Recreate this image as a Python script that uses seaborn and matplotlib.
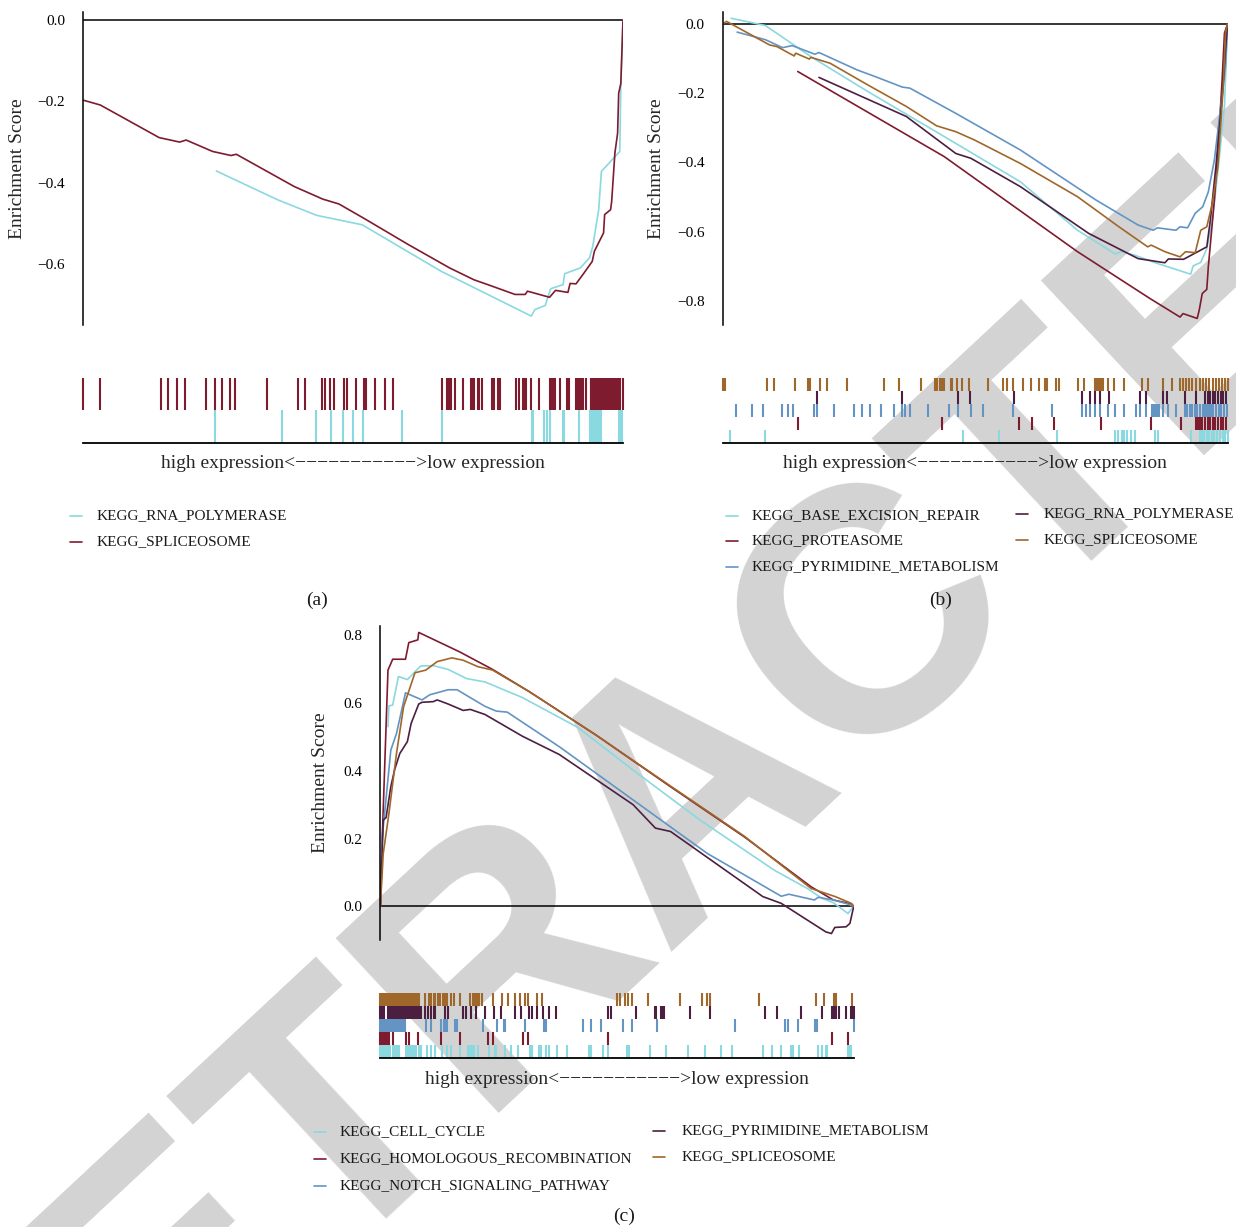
import numpy as np
import pandas as pd
import matplotlib
matplotlib.use("Agg")
import matplotlib.pyplot as plt
from matplotlib.lines import Line2D
import seaborn as sns

W, H = 1236, 1227

CYAN = "#8ad8e0"
RED = "#7f1b2e"
BLUE = "#6394c3"
PURPLE = "#4c1f41"
BROWN = "#a0672a"

# ---------------- panel (a) ----------------
a_names = ["KEGG_RNA_POLYMERASE", "KEGG_SPLICEOSOME"]
a_colors = [CYAN, RED]

a_rnapol_x = [0.247, 0.361, 0.433, 0.517, 0.663, 0.830, 0.837, 0.856, 0.866, 0.889, 0.892,
              0.921, 0.938, 0.944, 0.955, 0.960, 0.994, 0.996, 1.0]
a_rnapol_y = [-0.371, -0.442, -0.480, -0.503, -0.617, -0.727, -0.711, -0.701, -0.660, -0.650,
              -0.623, -0.609, -0.584, -0.556, -0.466, -0.372, -0.323, -0.156, 0.0]
a_splice_x = [0.0, 0.032, 0.141, 0.179, 0.191, 0.240, 0.274, 0.284, 0.391, 0.444, 0.474, 0.520,
              0.603, 0.679, 0.724, 0.754, 0.800, 0.819, 0.823, 0.845, 0.864, 0.875, 0.898, 0.902,
              0.913, 0.928, 0.943, 0.947, 0.964, 0.966, 0.977, 0.979, 0.985, 0.990, 0.992, 0.996, 1.0]
a_splice_y = [-0.197, -0.209, -0.289, -0.300, -0.295, -0.323, -0.333, -0.330, -0.409, -0.440,
              -0.452, -0.487, -0.552, -0.609, -0.638, -0.652, -0.674, -0.674, -0.666, -0.674,
              -0.681, -0.664, -0.669, -0.647, -0.648, -0.621, -0.593, -0.568, -0.523, -0.478,
              -0.466, -0.446, -0.327, -0.278, -0.180, -0.156, 0.0]

a_rnapol_hits = [0.245, 0.368, 0.432, 0.460, 0.482, 0.500, 0.518, 0.591, 0.664, 0.831, 0.834,
                 0.854, 0.860, 0.864, 0.888, 0.891, 0.919, 0.938, 0.942, 0.946, 0.950, 0.953,
                 0.956, 0.959, 0.993, 0.996, 0.999]
a_splice_hits = [0.0, 0.031, 0.144, 0.158, 0.175, 0.188, 0.227, 0.245, 0.257, 0.273, 0.281,
                 0.340, 0.398, 0.412, 0.443, 0.448, 0.457, 0.464, 0.484, 0.489, 0.506, 0.521,
                 0.525, 0.540, 0.560, 0.575, 0.664, 0.675, 0.678, 0.681, 0.689, 0.704, 0.718,
                 0.721, 0.724, 0.731, 0.734, 0.738, 0.757, 0.761, 0.768, 0.772, 0.801, 0.808,
                 0.814, 0.817, 0.820, 0.829, 0.845, 0.865, 0.868, 0.872, 0.875, 0.884, 0.897,
                 0.900, 0.913, 0.915, 0.918, 0.920, 0.923, 0.926, 0.931, 0.940, 0.941, 0.944,
                 0.946, 0.949, 0.951, 0.955, 0.958, 0.962, 0.964, 0.968, 0.973, 0.975, 0.978,
                 0.981, 0.985, 0.988, 0.991, 0.994, 1.0]

# ---------------- panel (b) ----------------
b_names = ["KEGG_BASE_EXCISION_REPAIR", "KEGG_PROTEASOME", "KEGG_PYRIMIDINE_METABOLISM",
           "KEGG_RNA_POLYMERASE", "KEGG_SPLICEOSOME"]
b_colors = [CYAN, RED, BLUE, PURPLE, BROWN]

b_ber_x = [0.017, 0.085, 0.175, 0.288, 0.439, 0.590, 0.703, 0.778, 0.789, 0.816, 0.861, 0.927,
           0.932, 0.947, 0.959, 0.970, 0.982, 0.994, 1.0]
b_ber_y = [0.017, -0.004, -0.094, -0.195, -0.325, -0.456, -0.596, -0.665, -0.658, -0.668,
           -0.692, -0.723, -0.699, -0.689, -0.649, -0.567, -0.412, -0.238, 0.0]
b_prot_x = [0.149, 0.439, 0.703, 0.846, 0.906, 0.912, 0.940, 0.944, 0.950, 0.959, 0.962, 0.974,
            0.981, 0.989, 0.994, 1.0]
b_prot_y = [-0.137, -0.383, -0.658, -0.793, -0.847, -0.837, -0.851, -0.827, -0.779, -0.767,
            -0.702, -0.509, -0.364, -0.171, -0.026, 0.0]
b_pyr_x = [0.029, 0.085, 0.119, 0.138, 0.183, 0.191, 0.266, 0.303, 0.356, 0.371, 0.462, 0.590,
           0.740, 0.823, 0.853, 0.861, 0.898, 0.906, 0.921, 0.936, 0.951, 0.962, 0.974, 0.985,
           0.996, 1.0]
b_pyr_y = [-0.023, -0.045, -0.068, -0.062, -0.087, -0.082, -0.132, -0.152, -0.182, -0.185,
           -0.258, -0.364, -0.509, -0.581, -0.596, -0.589, -0.596, -0.586, -0.589, -0.547,
           -0.528, -0.485, -0.393, -0.258, -0.123, 0.0]
b_rnapol_x = [0.191, 0.364, 0.462, 0.492, 0.590, 0.725, 0.823, 0.876, 0.883, 0.913, 0.959,
              0.966, 0.977, 0.989, 0.996, 1.0]
b_rnapol_y = [-0.154, -0.267, -0.374, -0.388, -0.470, -0.605, -0.678, -0.690, -0.679, -0.680,
              -0.644, -0.567, -0.412, -0.219, -0.074, 0.0]
b_splice_x = [0.0, 0.008, 0.093, 0.108, 0.142, 0.145, 0.172, 0.175, 0.213, 0.288, 0.364, 0.424,
              0.462, 0.499, 0.590, 0.703, 0.785, 0.842, 0.849, 0.876, 0.906, 0.917, 0.936, 0.947,
              0.959, 0.970, 0.981, 0.992, 0.996, 1.0]
b_splice_y = [0.0, 0.008, -0.060, -0.065, -0.092, -0.084, -0.101, -0.096, -0.113, -0.176,
              -0.238, -0.294, -0.311, -0.335, -0.403, -0.499, -0.586, -0.644, -0.639, -0.658,
              -0.673, -0.658, -0.661, -0.596, -0.586, -0.518, -0.412, -0.171, -0.026, 0.0]

b_ber_hits = [0.015, 0.084, 0.477, 0.547, 0.663, 0.778, 0.783, 0.792, 0.796, 0.801, 0.808,
              0.816, 0.857, 0.862, 0.928, 0.946, 0.950, 0.954, 0.959, 0.964, 0.969, 0.974,
              0.980, 0.985, 0.991, 0.996, 1.0]
b_prot_hits = [0.149, 0.435, 0.588, 0.613, 0.657, 0.750, 0.849, 0.907, 0.938, 0.942, 0.946,
               0.950, 0.956, 0.961, 0.966, 0.971, 0.976, 0.982, 0.987, 0.992, 0.997]
b_pyr_hits = [0.026, 0.058, 0.081, 0.118, 0.129, 0.139, 0.181, 0.188, 0.221, 0.261, 0.276,
              0.293, 0.313, 0.340, 0.355, 0.361, 0.372, 0.407, 0.449, 0.466, 0.493, 0.515,
              0.576, 0.653, 0.712, 0.720, 0.728, 0.737, 0.748, 0.763, 0.778, 0.796, 0.819,
              0.826, 0.838, 0.851, 0.854, 0.857, 0.861, 0.864, 0.872, 0.882, 0.898, 0.915,
              0.919, 0.925, 0.930, 0.935, 0.939, 0.945, 0.951, 0.955, 0.959, 0.963, 0.968,
              0.972, 0.978, 0.983, 0.988, 0.993, 0.999]
b_rnapol_hits = [0.188, 0.356, 0.466, 0.491, 0.577, 0.712, 0.728, 0.737, 0.748, 0.766, 0.826,
                 0.838, 0.873, 0.881, 0.915, 0.937, 0.956, 0.961, 0.966, 0.971, 0.976, 0.982,
                 0.987, 0.992, 0.997]
b_splice_hits = [0.0, 0.005, 0.088, 0.102, 0.143, 0.170, 0.173, 0.193, 0.206, 0.246, 0.320,
                 0.349, 0.394, 0.420, 0.425, 0.430, 0.434, 0.438, 0.452, 0.455, 0.464, 0.474,
                 0.489, 0.525, 0.556, 0.564, 0.576, 0.595, 0.611, 0.626, 0.639, 0.642, 0.661,
                 0.667, 0.704, 0.715, 0.737, 0.741, 0.745, 0.749, 0.754, 0.763, 0.776, 0.796,
                 0.831, 0.842, 0.873, 0.890, 0.905, 0.911, 0.917, 0.923, 0.929, 0.937, 0.945,
                 0.951, 0.958, 0.964, 0.971, 0.978, 0.984, 0.990, 0.996, 1.0]

# ---------------- panel (c) ----------------
c_names = ["KEGG_CELL_CYCLE", "KEGG_HOMOLOGOUS_RECOMBINATION", "KEGG_NOTCH_SIGNALING_PATHWAY",
           "KEGG_PYRIMIDINE_METABOLISM", "KEGG_SPLICEOSOME"]
c_colors = [CYAN, RED, BLUE, PURPLE, BROWN]

c_cycle_x = [0.016, 0.018, 0.026, 0.038, 0.057, 0.085, 0.112, 0.143, 0.182, 0.221, 0.300, 0.417,
             0.534, 0.675, 0.832, 0.902, 0.933, 0.957, 0.988, 0.996, 1.0]
c_cycle_y = [0.530, 0.591, 0.594, 0.678, 0.669, 0.709, 0.710, 0.699, 0.672, 0.662, 0.616, 0.528,
             0.402, 0.255, 0.107, 0.053, 0.024, 0.011, -0.021, -0.006, 0.0]
c_hr_x = [0.0, 0.004, 0.016, 0.026, 0.053, 0.060, 0.079, 0.081, 0.167, 0.237, 0.315, 0.456,
          0.613, 0.769, 0.910, 0.957, 0.996, 1.0]
c_hr_y = [0.0, 0.205, 0.697, 0.729, 0.729, 0.778, 0.786, 0.808, 0.751, 0.699, 0.633, 0.505,
          0.353, 0.205, 0.058, 0.019, 0.007, 0.0]
c_notch_x = [0.0, 0.004, 0.022, 0.034, 0.053, 0.088, 0.104, 0.143, 0.162, 0.221, 0.245, 0.268,
             0.378, 0.534, 0.691, 0.847, 0.863, 0.917, 0.925, 0.957, 0.988, 1.0]
c_notch_y = [0.0, 0.205, 0.461, 0.510, 0.630, 0.609, 0.624, 0.639, 0.639, 0.590, 0.576, 0.573,
             0.471, 0.314, 0.156, 0.030, 0.036, 0.019, 0.027, 0.019, 0.007, 0.0]
c_pyr_x = [0.0, 0.006, 0.012, 0.022, 0.030, 0.041, 0.057, 0.065, 0.081, 0.088, 0.112, 0.120,
           0.143, 0.175, 0.190, 0.221, 0.300, 0.378, 0.534, 0.581, 0.613, 0.808, 0.847, 0.941,
           0.953, 0.960, 0.984, 0.992, 1.0]
c_pyr_y = [0.0, 0.255, 0.262, 0.353, 0.403, 0.451, 0.486, 0.540, 0.597, 0.602, 0.604, 0.609,
           0.597, 0.578, 0.581, 0.566, 0.502, 0.448, 0.300, 0.231, 0.221, 0.029, 0.009, -0.075,
           -0.080, -0.062, -0.060, -0.050, 0.0]
c_splice_x = [0.0, 0.006, 0.018, 0.034, 0.049, 0.073, 0.096, 0.120, 0.151, 0.175, 0.206, 0.237,
              0.315, 0.456, 0.613, 0.769, 0.910, 0.961, 0.995, 1.0]
c_splice_y = [0.0, 0.156, 0.274, 0.451, 0.589, 0.689, 0.697, 0.722, 0.733, 0.726, 0.707, 0.697,
              0.633, 0.505, 0.355, 0.207, 0.053, 0.029, 0.009, 0.0]

c_cycle_hits = [0.0, 0.004, 0.007, 0.011, 0.014, 0.018, 0.021, 0.026, 0.030, 0.033, 0.037,
                0.039, 0.054, 0.058, 0.062, 0.066, 0.069, 0.073, 0.076, 0.081, 0.085, 0.099,
                0.106, 0.116, 0.130, 0.140, 0.150, 0.169, 0.185, 0.189, 0.194, 0.197, 0.207,
                0.229, 0.242, 0.245, 0.264, 0.275, 0.291, 0.317, 0.321, 0.335, 0.340, 0.350,
                0.357, 0.373, 0.394, 0.440, 0.444, 0.471, 0.481, 0.522, 0.525, 0.569, 0.603,
                0.649, 0.686, 0.719, 0.742, 0.809, 0.828, 0.847, 0.867, 0.872, 0.884, 0.924,
                0.934, 0.941, 0.943, 0.988, 0.992, 0.995]
c_hr_hits = [0.0, 0.004, 0.007, 0.011, 0.014, 0.018, 0.026, 0.054, 0.060, 0.079, 0.129, 0.169,
             0.228, 0.238, 0.301, 0.312, 0.481, 0.955, 0.987]
c_notch_hits = [0.0, 0.004, 0.007, 0.011, 0.014, 0.018, 0.021, 0.025, 0.028, 0.032, 0.035,
                0.039, 0.042, 0.046, 0.049, 0.053, 0.097, 0.106, 0.127, 0.134, 0.137, 0.141,
                0.157, 0.162, 0.216, 0.247, 0.261, 0.264, 0.305, 0.345, 0.349, 0.428, 0.446,
                0.467, 0.512, 0.532, 0.584, 0.749, 0.854, 0.862, 0.883, 0.918, 0.923, 1.0]
c_pyr_hits = [0.0, 0.004, 0.007, 0.016, 0.021, 0.025, 0.028, 0.032, 0.035, 0.039, 0.042, 0.046,
              0.049, 0.055, 0.059, 0.062, 0.066, 0.070, 0.074, 0.078, 0.081, 0.085, 0.095,
              0.101, 0.106, 0.113, 0.116, 0.137, 0.143, 0.174, 0.180, 0.192, 0.202, 0.222,
              0.240, 0.254, 0.284, 0.298, 0.315, 0.321, 0.331, 0.343, 0.356, 0.370, 0.481,
              0.488, 0.541, 0.580, 0.583, 0.592, 0.597, 0.600, 0.655, 0.696, 0.812, 0.839,
              0.888, 0.934, 0.955, 0.959, 0.963, 0.968, 0.983, 0.994, 0.997, 1.0]
c_splice_hits = [0.0, 0.004, 0.007, 0.011, 0.014, 0.018, 0.021, 0.025, 0.028, 0.032, 0.035,
                 0.039, 0.042, 0.046, 0.049, 0.053, 0.056, 0.060, 0.063, 0.067, 0.070, 0.074,
                 0.078, 0.081, 0.095, 0.102, 0.106, 0.113, 0.116, 0.122, 0.125, 0.133, 0.137,
                 0.141, 0.150, 0.155, 0.169, 0.189, 0.196, 0.199, 0.204, 0.209, 0.215, 0.237,
                 0.257, 0.270, 0.284, 0.294, 0.305, 0.312, 0.331, 0.342, 0.500, 0.507, 0.516,
                 0.523, 0.532, 0.565, 0.632, 0.679, 0.689, 0.696, 0.800, 0.920, 0.937, 0.958,
                 0.962, 0.996]

XLABEL = "high expression<" + "\u2212" * 11 + ">low expression"


def rect(x0, y0, x1, y1):
    return [x0 / W, 1 - y1 / H, (x1 - x0) / W, (y1 - y0) / H]


def draw_panel(fig, main_px, rug_px, ylim, yticks, curves, hits, names, colors, ylab_x):
    ax = fig.add_axes(rect(*main_px))
    ax.patch.set_alpha(0)
    rows = []
    for name, (xs, ys) in zip(names, curves):
        rows.append(pd.DataFrame({"rank": xs, "es": ys, "gene_set": name}))
    df = pd.concat(rows, ignore_index=True)
    sns.lineplot(data=df, x="rank", y="es", hue="gene_set", palette=dict(zip(names, colors)),
                 sort=False, estimator=None, lw=1.2, legend=False, ax=ax)
    ax.axhline(0, color="black", lw=1.1, zorder=1)
    ax.set_xlim(0, 1)
    ax.set_ylim(*ylim)
    ax.set_yticks(yticks)
    ax.set_xticks([])
    for s in ["top", "right", "bottom"]:
        ax.spines[s].set_visible(False)
    ax.spines["left"].set_color("black")
    ax.spines["left"].set_linewidth(1.1)
    ax.tick_params(axis="y", length=2.5, width=0.8, pad=10.5, labelsize=11, colors="black")
    ax.set_xlabel("")
    ax.set_ylabel("Enrichment Score", fontsize=14)
    ax.yaxis.set_label_coords(ylab_x, 0.5)

    rug = fig.add_axes(rect(*rug_px))
    rug.patch.set_alpha(0)
    n = len(names)
    for i, (h, c) in enumerate(zip(hits, colors)):
        rug.vlines(h, i, i + 1, color=c, lw=1.5, clip_on=False)
    rug.set_xlim(0, 1)
    rug.set_ylim(0, n)
    rug.set_xticks([])
    rug.set_yticks([])
    for s in ["top", "right", "left"]:
        rug.spines[s].set_visible(False)
    rug.spines["bottom"].set_color("black")
    rug.spines["bottom"].set_linewidth(1.3)
    rug.set_xlabel(XLABEL, fontsize=14, labelpad=9)
    return ax, rug


def legend_item(fig, x_line, x_text, y, color, label):
    fig.add_artist(Line2D([x_line / W, (x_line + 12) / W], [1 - y / H, 1 - y / H],
                          color=color, lw=1.2, transform=fig.transFigure))
    fig.text(x_text / W, 1 - y / H, label, fontsize=11, va="center", ha="left", color="#1a1a1a")


sns.set_theme(style="white")
plt.rcParams["font.family"] = ["Liberation Serif", "DejaVu Serif"]
plt.rcParams["axes.facecolor"] = "none"

fig = plt.figure(figsize=(W / 100, H / 100), dpi=100)

# watermark behind everything
fig.text(690 / W, 1 - 790 / H, "RETRACTED", fontsize=250, fontweight="bold",
         family="Liberation Sans", color="#d3d3d3", rotation=43, ha="center", va="center",
         rotation_mode="anchor", zorder=-5)

draw_panel(fig, (83, 11.7, 623, 325), (83, 378, 623, 443), (-0.749, 0.020),
           [0.0, -0.2, -0.4, -0.6],
           [(a_rnapol_x, a_rnapol_y), (a_splice_x, a_splice_y)],
           [a_rnapol_hits, a_splice_hits], a_names, a_colors, -0.105)

draw_panel(fig, (722.5, 11.7, 1227.5, 325), (722.5, 378, 1227.5, 443), (-0.870, 0.036),
           [0.0, -0.2, -0.4, -0.6, -0.8],
           [(b_ber_x, b_ber_y), (b_prot_x, b_prot_y), (b_pyr_x, b_pyr_y),
            (b_rnapol_x, b_rnapol_y), (b_splice_x, b_splice_y)],
           [b_ber_hits, b_prot_hits, b_pyr_hits, b_rnapol_hits, b_splice_hits],
           b_names, b_colors, -0.114)

draw_panel(fig, (380.4, 626, 853.7, 940), (380.4, 993, 853.7, 1058), (-0.099, 0.827),
           [0.0, 0.2, 0.4, 0.6, 0.8],
           [(c_cycle_x, c_cycle_y), (c_hr_x, c_hr_y), (c_notch_x, c_notch_y),
            (c_pyr_x, c_pyr_y), (c_splice_x, c_splice_y)],
           [c_cycle_hits, c_hr_hits, c_notch_hits, c_pyr_hits, c_splice_hits],
           c_names, c_colors, -0.109)

# legends
for name, col, y in zip(a_names, a_colors, [516, 542]):
    legend_item(fig, 70, 97, y, col, name)
for name, col, y in zip(b_names[:3], b_colors[:3], [516, 541, 567]):
    legend_item(fig, 726, 752, y, col, name)
for name, col, y in zip(b_names[3:], b_colors[3:], [514, 540]):
    legend_item(fig, 1016, 1044, y, col, name)
for name, col, y in zip(c_names[:3], c_colors[:3], [1132, 1159, 1186]):
    legend_item(fig, 314, 340, y, col, name)
for name, col, y in zip(c_names[3:], c_colors[3:], [1131, 1157]):
    legend_item(fig, 653, 682, y, col, name)

for lab, x, y in [("(a)", 317, 600), ("(b)", 941, 600), ("(c)", 624, 1216)]:
    fig.text(x / W, 1 - y / H, lab, fontsize=14, ha="center", va="center", color="#1a1a1a")

fig.savefig("out.png", dpi=100)
